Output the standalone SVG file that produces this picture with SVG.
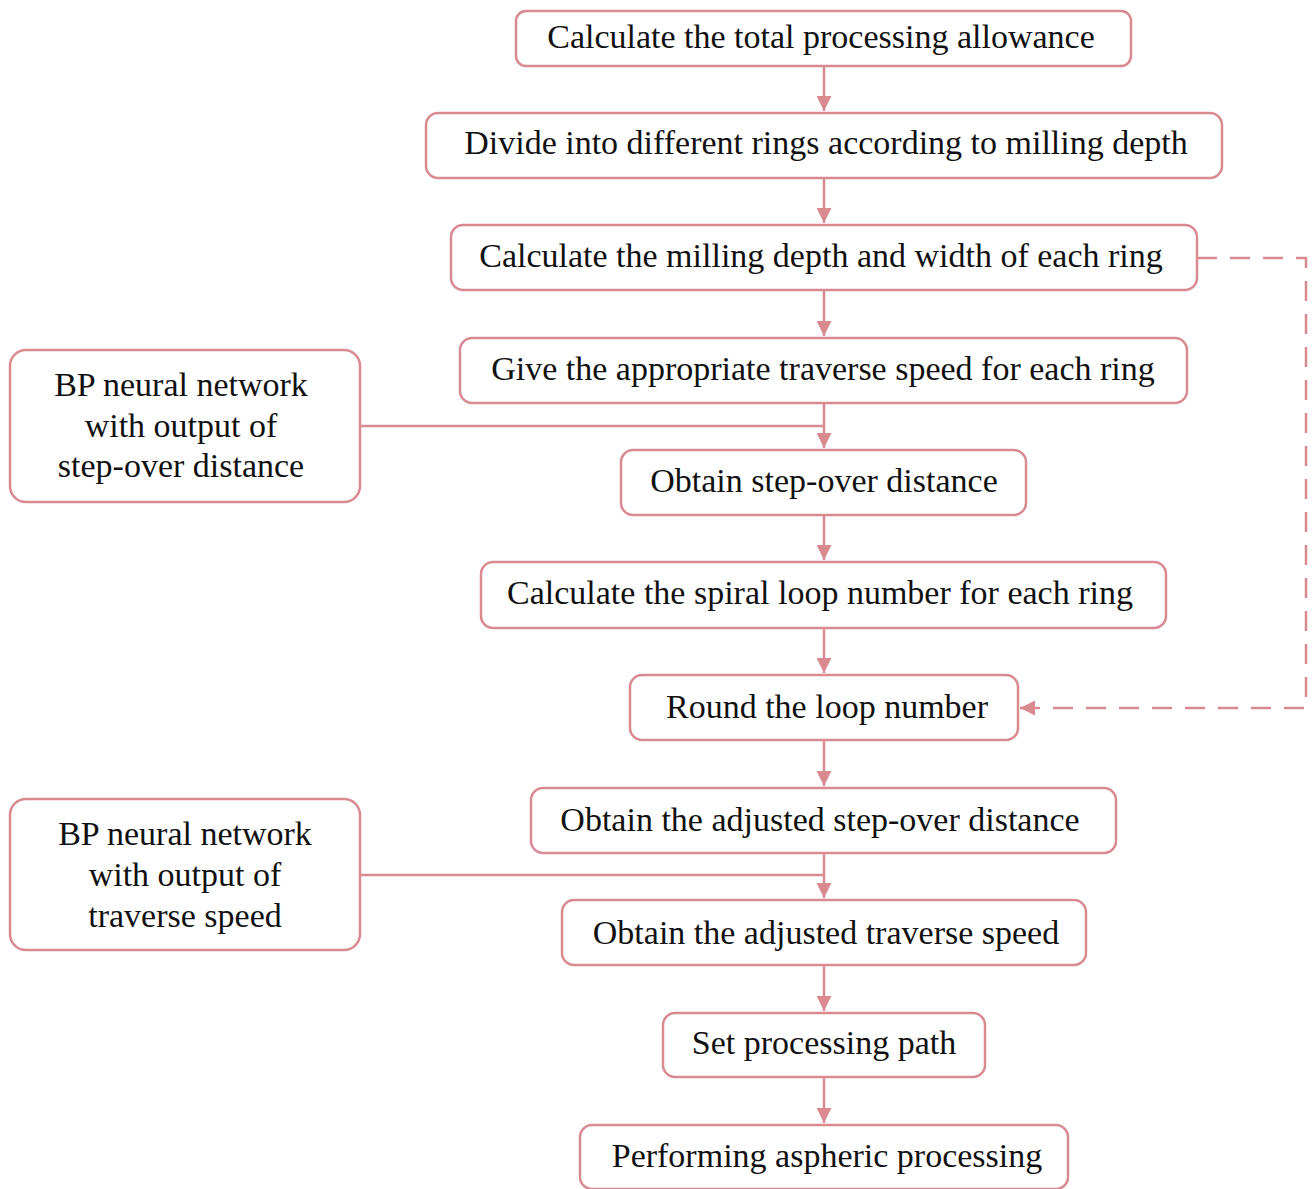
<svg xmlns="http://www.w3.org/2000/svg" width="1312" height="1189" viewBox="0 0 1312 1189">
<style>
.b{fill:#fff;stroke:#d98a90;stroke-width:2.5}
.t{font-family:"Liberation Serif","Times New Roman",serif;font-size:34px;fill:#111;text-anchor:middle}
.c{fill:none;stroke:#d98a90;stroke-width:2.5}
.d{fill:none;stroke:#d98a90;stroke-width:2.5;stroke-dasharray:20 13}
</style>
<defs>
<marker id="ah2" viewBox="0 0 10 10" refX="10" refY="5" markerWidth="15" markerHeight="15" markerUnits="userSpaceOnUse" orient="auto"><path d="M0,0L10,5L0,10z" fill="#d98a90"/></marker>
</defs>
<rect width="1312" height="1189" fill="#fff"/>
<g id="connectors">
<path class="c" d="M824,66V111" marker-end="url(#ah2)"/>
<path class="c" d="M824,178V223" marker-end="url(#ah2)"/>
<path class="c" d="M824,290V336" marker-end="url(#ah2)"/>
<path class="c" d="M824,403V448" marker-end="url(#ah2)"/>
<path class="c" d="M360,426H824"/>
<path class="c" d="M824,515V560" marker-end="url(#ah2)"/>
<path class="c" d="M824,628V673" marker-end="url(#ah2)"/>
<path class="c" d="M824,740V786" marker-end="url(#ah2)"/>
<path class="c" d="M824,853V898" marker-end="url(#ah2)"/>
<path class="c" d="M360,875H824"/>
<path class="c" d="M824,965V1011" marker-end="url(#ah2)"/>
<path class="c" d="M824,1077V1123" marker-end="url(#ah2)"/>
<path class="d" d="M1197,258H1306V708H1020" marker-end="url(#ah2)"/>
</g>
<g id="n1"><rect class="b" x="516" y="11" width="615" height="55" rx="10"/><text class="t" x="821" y="48">Calculate the total processing allowance</text></g>
<g id="n2"><rect class="b" x="426" y="113" width="796" height="65" rx="12"/><text class="t" x="826" y="154">Divide into different rings according to milling depth</text></g>
<g id="n3"><rect class="b" x="451" y="225" width="746" height="65" rx="12"/><text class="t" x="821" y="267">Calculate the milling depth and width of each ring</text></g>
<g id="n4"><rect class="b" x="460" y="338" width="727" height="65" rx="12"/><text class="t" x="823" y="380">Give the appropriate traverse speed for each ring</text></g>
<g id="n5"><rect class="b" x="621" y="450" width="405" height="65" rx="12"/><text class="t" x="824" y="492">Obtain step-over distance</text></g>
<g id="n6"><rect class="b" x="481" y="562" width="685" height="66" rx="12"/><text class="t" x="820" y="604">Calculate the spiral loop number for each ring</text></g>
<g id="n7"><rect class="b" x="630" y="675" width="388" height="65" rx="12"/><text class="t" x="827" y="718">Round the loop number</text></g>
<g id="n8"><rect class="b" x="531" y="788" width="585" height="65" rx="12"/><text class="t" x="820" y="831">Obtain the adjusted step-over distance</text></g>
<g id="n9"><rect class="b" x="562" y="900" width="524" height="65" rx="12"/><text class="t" x="826" y="944">Obtain the adjusted traverse speed</text></g>
<g id="n10"><rect class="b" x="663" y="1013" width="322" height="64" rx="12"/><text class="t" x="824" y="1054">Set processing path</text></g>
<g id="n11"><rect class="b" x="580" y="1125" width="488" height="64" rx="12"/><text class="t" x="827" y="1167">Performing aspheric processing</text></g>
<g id="bp1"><rect class="b" x="10" y="350" width="350" height="152" rx="16"/><text class="t" x="181" y="396">BP neural network</text><text class="t" x="181" y="437">with output of</text><text class="t" x="181" y="477">step-over distance</text></g>
<g id="bp2"><rect class="b" x="10" y="799" width="350" height="151" rx="16"/><text class="t" x="185" y="845">BP neural network</text><text class="t" x="185" y="886">with output of</text><text class="t" x="185" y="927">traverse speed</text></g>
</svg>
